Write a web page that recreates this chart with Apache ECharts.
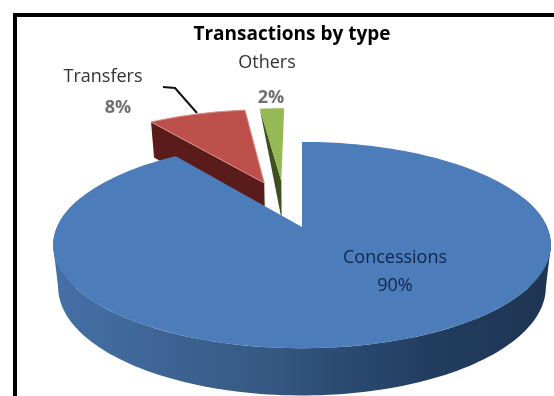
<!DOCTYPE html>
<html>
<head>
<meta charset="utf-8">
<style>
html,body{margin:0;padding:0;background:#fff}
#chart{width:554px;height:396px}
</style>
<script src="https://cdn.jsdelivr.net/npm/echarts@6/dist/echarts.min.js"></script>
</head>
<body>
<div id="chart"></div>
<script>
// Transactions by type
var categories = ['Concessions', 'Transfers', 'Others'];
var shares = [90, 8, 2];

// Perspective disc: screen position of the pie's hub, half-axes and foreshortening
var HUB_X = 302, HUB_Y = 227, AXIS_X = 245, AXIS_Y = 100, PERSPECTIVE = 0.175;
var THICKNESS = 41, FOOT_SCALE = 0.98;

// Per-slice look: explode offset on the disc plane, colours, rim drop of the cut face, label anchors
var looks = {
  Concessions: { du: 0, dv: 0, top: '#4c7cb9', edge: null, cut: '#2f4d74', rimDrop: 1, z: 30,
    nameAt: [395, 258], pctAt: [395, 286], nameFill: '#12264a', pctFill: '#12264a', pctWeight: 'normal' },
  Transfers: { du: -0.167, dv: -0.477, top: '#be504c', edge: '#d68f8b', cut: '#591c1b', rimDrop: 1, z: 10,
    nameAt: [103, 77], pctAt: [118, 108], nameFill: '#333333', pctFill: '#707070', pctWeight: 'bold' },
  Others: { du: -0.092, dv: -0.499, top: '#96b955', edge: null, cut: '#3d5020', rimDrop: 0, z: 20,
    nameAt: [267, 63], pctAt: [271, 98], nameFill: '#333333', pctFill: '#707070', pctWeight: 'bold' }
};

var wallGradient = {
  type: 'linear', global: true, x: 55, y: 0, x2: 553, y2: 0,
  colorStops: [
    { offset: 0, color: '#4470a6' },
    { offset: 0.2, color: '#3f6596' },
    { offset: 0.4, color: '#375a85' },
    { offset: 0.55, color: '#2d4d75' },
    { offset: 0.75, color: '#223d5f' },
    { offset: 1, color: '#1e3552' }
  ]
};

var total = shares.reduce(function (a, b) { return a + b; }, 0);

function project(u, v, foot) {
  var s = 1 / (1 - PERSPECTIVE * v);
  var k = foot ? FOOT_SCALE : 1;
  return [
    HUB_X + AXIS_X * u * s * k,
    HUB_Y + AXIS_Y * v * s * k + (foot ? THICKNESS * s : 0)
  ];
}

function rimPoint(turn, look, foot) {
  var a = turn * Math.PI * 2;
  return project(Math.sin(a) + look.du, -Math.cos(a) + look.dv, foot);
}

function arc(from, to, look, foot) {
  var pts = [], n = Math.max(2, Math.ceil(Math.abs(to - from) * 240));
  for (var i = 0; i <= n; i++) {
    pts.push(rimPoint(from + (to - from) * i / n, look, foot));
  }
  return pts;
}

// Leftmost and rightmost points of a rim, where the wall's silhouette is tangent
function extremes(points) {
  var lo = points[0], hi = points[0];
  points.forEach(function (p) {
    if (p[0] < lo[0]) lo = p;
    if (p[0] > hi[0]) hi = p;
  });
  return [lo, hi];
}

function caption(text, at, fill, weight) {
  return {
    type: 'text', z2: 50, x: at[0], y: at[1],
    style: {
      text: text, font: weight + ' 18px "Open Sans", sans-serif', fill: fill,
      align: 'center', verticalAlign: 'middle'
    }
  };
}

function renderSlice(params, api) {
  var i = params.dataIndex;
  var name = categories[i];
  var look = looks[name];
  var before = 0;
  for (var j = 0; j < i; j++) before += shares[j];
  var from = before / total, to = (before + shares[i]) / total;
  var hubTop = project(look.du, look.dv, false);
  var hubFoot = project(look.du, look.dv, true);
  var children = [];

  if (i === 0) {
    // Outer wall of the big slice, seen along the front of the disc
    var wallTop = arc(0.2, 0.8, look, false);
    var wallFoot = arc(0.2, 0.8, look, true);
    children.push({
      type: 'polygon', z2: look.z,
      shape: { points: wallTop.concat(wallFoot.slice().reverse()) },
      style: { fill: wallGradient }
    });
    var a = extremes(wallTop), b = extremes(wallFoot);
    children.push({
      type: 'polygon', z2: look.z,
      shape: { points: [a[0], b[0], b[1], a[1]] },
      style: { fill: wallGradient }
    });
  } else {
    // Cut face exposed on the leading edge of an exploded slice
    var rimTop = rimPoint(from, look, false);
    var rimFoot = rimPoint(from, look, true);
    var cutPts = look.rimDrop ? [rimTop, hubTop, hubFoot, rimFoot] : [rimTop, hubTop, hubFoot];
    children.push({
      type: 'polygon', z2: look.z,
      shape: { points: cutPts },
      style: { fill: look.cut }
    });
  }

  children.push({
    type: 'polygon', z2: look.z + 1,
    shape: { points: [hubTop].concat(arc(from, to, look, false)) },
    style: { fill: look.top, stroke: look.edge, lineWidth: look.edge ? 1 : 0 }
  });

  var pct = Math.round(api.value(0) / total * 100) + '%';
  children.push(caption(name, look.nameAt, look.nameFill, 'normal'));
  children.push(caption(pct, look.pctAt, look.pctFill, look.pctWeight));

  if (i === 1) {
    // Leader from the label to the slice
    children.push({
      type: 'polyline', z2: 40,
      shape: { points: [[163, 87], [175, 88], [197, 113]] },
      style: { stroke: '#111111', lineWidth: 2, fill: 'none' }
    });
  }
  return { type: 'group', children: children };
}

var chart = echarts.init(document.getElementById('chart'), null, { renderer: 'canvas' });
chart.setOption({
  animation: false,
  backgroundColor: '#ffffff',
  title: {
    text: 'Transactions by type', left: 287, top: 30, textAlign: 'center', textVerticalAlign: 'middle',
    textStyle: { fontFamily: '"Open Sans", sans-serif', fontWeight: 'bold', fontSize: 19, color: '#000000' }
  },
  graphic: [
    { type: 'rect', shape: { x: 13, y: 13, width: 541, height: 4 }, style: { fill: '#000000' } },
    { type: 'rect', shape: { x: 13, y: 13, width: 4, height: 383 }, style: { fill: '#000000' } }
  ],
  series: [{
    type: 'custom',
    coordinateSystem: 'none',
    renderItem: renderSlice,
    data: shares.map(function (v) { return [v]; })
  }]
});
</script>
</body>
</html>
